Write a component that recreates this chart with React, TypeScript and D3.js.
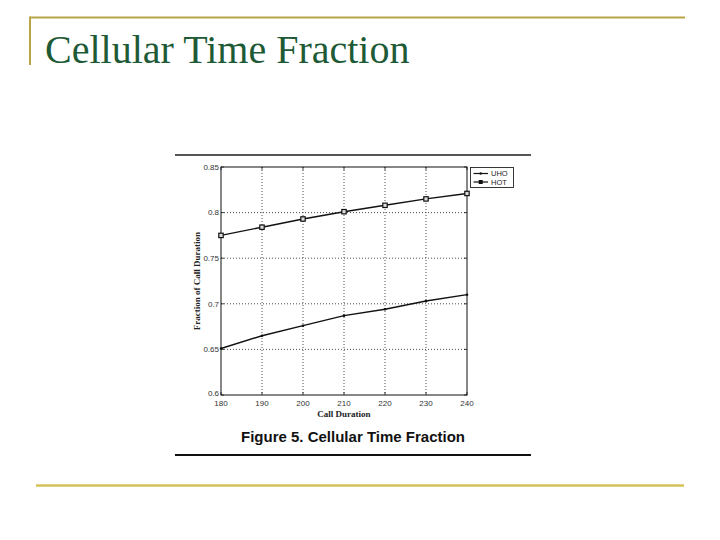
import React from "react";
import * as d3 from "d3";

const callDurations = [180, 190, 200, 210, 220, 230, 240];
const uhoValues = [0.651, 0.665, 0.676, 0.687, 0.694, 0.703, 0.71];
const hotValues = [0.775, 0.784, 0.793, 0.801, 0.808, 0.815, 0.821];
const yTicks = [0.6, 0.65, 0.7, 0.75, 0.8, 0.85];
const yTickLabels = ["0.6", "0.65", "0.7", "0.75", "0.8", "0.85"];
const seriesNames = ["UHO", "HOT"];

export default function App() {
  const W = 720, H = 540;
  const left = 221, right = 467, top = 167, bottom = 395;
  const x = d3.scaleLinear().domain([180, 240]).range([left, right]);
  const y = d3.scaleLinear().domain([0.6, 0.85]).range([bottom, top]);
  const line = d3
    .line<[number, number]>()
    .x((d) => x(d[0]))
    .y((d) => y(d[1]));
  const uho = callDurations.map((c, i) => [c, uhoValues[i]] as [number, number]);
  const hot = callDurations.map((c, i) => [c, hotValues[i]] as [number, number]);

  const gold = "#b8a548";
  const tickFont = "'Liberation Sans', Arial, sans-serif";
  const serif = "'Liberation Serif', 'Times New Roman', serif";

  return (
    <svg
      width={W}
      height={H}
      viewBox={`0 0 ${W} ${H}`}
      style={{ position: "absolute", left: 0, top: 0, background: "#fff" }}
    >
      {/* slide decoration */}
      <line x1={30} y1={17.5} x2={685} y2={17.5} stroke={gold} strokeWidth={2} />
      <line x1={30} y1={16.5} x2={30} y2={65} stroke={gold} strokeWidth={2} />
      <line x1={36} y1={485.5} x2={684} y2={485.5} stroke="#d2c25a" strokeWidth={2.5} />
      <text x={45} y={63} fontFamily={serif} fontSize={40} fill="#1e5a36">
        Cellular Time Fraction
      </text>

      {/* figure rules */}
      <line x1={175} y1={155} x2={531} y2={155} stroke="#555" strokeWidth={1.8} />
      <line x1={175} y1={455} x2={531} y2={455} stroke="#111" strokeWidth={2} />

      {/* grid */}
      {callDurations.slice(1, -1).map((c) => (
        <line
          key={"vx" + c}
          x1={x(c)}
          x2={x(c)}
          y1={top}
          y2={bottom}
          stroke="#222"
          strokeWidth={0.8}
          strokeDasharray="1,2"
        />
      ))}
      {yTicks.slice(1, -1).map((t) => (
        <line
          key={"hy" + t}
          x1={left}
          x2={right}
          y1={y(t)}
          y2={y(t)}
          stroke="#222"
          strokeWidth={0.8}
          strokeDasharray="1,2"
        />
      ))}

      {/* frame */}
      <rect
        x={left}
        y={top}
        width={right - left}
        height={bottom - top}
        fill="none"
        stroke="#111"
        strokeWidth={1}
      />
      {/* inward ticks */}
      {callDurations.map((c) => (
        <g key={"tx" + c}>
          <line x1={x(c)} x2={x(c)} y1={bottom} y2={bottom - 3} stroke="#111" strokeWidth={0.8} />
          <line x1={x(c)} x2={x(c)} y1={top} y2={top + 3} stroke="#111" strokeWidth={0.8} />
        </g>
      ))}
      {yTicks.map((t) => (
        <g key={"ty" + t}>
          <line x1={left} x2={left + 3} y1={y(t)} y2={y(t)} stroke="#111" strokeWidth={0.8} />
          <line x1={right} x2={right - 3} y1={y(t)} y2={y(t)} stroke="#111" strokeWidth={0.8} />
        </g>
      ))}

      {/* tick labels */}
      {yTicks.map((t, i) => (
        <text
          key={"yl" + t}
          x={left - 2}
          y={y(t)}
          dy={i === 0 ? "0.1em" : "0.35em"}
          textAnchor="end"
          fontFamily={tickFont}
          fontSize={8}
          fill="#333"
        >
          {yTickLabels[i]}
        </text>
      ))}
      {callDurations.map((c) => (
        <text
          key={"xl" + c}
          x={x(c)}
          y={bottom + 10.5}
          textAnchor="middle"
          fontFamily={tickFont}
          fontSize={8}
          fill="#333"
        >
          {c}
        </text>
      ))}

      {/* axis labels */}
      <text
        x={(left + right) / 2}
        y={417}
        textAnchor="middle"
        fontFamily={serif}
        fontWeight="bold"
        fontSize={9}
        fill="#222"
      >
        Call Duration
      </text>
      <text
        transform={`translate(200, ${(top + bottom) / 2}) rotate(-90)`}
        textAnchor="middle"
        fontFamily={serif}
        fontWeight="bold"
        fontSize={9}
        fill="#222"
      >
        Fraction of Call Duration
      </text>

      {/* series */}
      <path d={line(uho) || ""} fill="none" stroke="#111" strokeWidth={1.4} />
      <path d={line(hot) || ""} fill="none" stroke="#111" strokeWidth={1.4} />
      {uho.map((d, i) => (
        <circle key={"u" + i} cx={x(d[0])} cy={y(d[1])} r={1.3} fill="#111" />
      ))}
      {hot.map((d, i) => (
        <rect
          key={"h" + i}
          x={x(d[0]) - 2.2}
          y={y(d[1]) - 2.2}
          width={4.4}
          height={4.4}
          fill="#ddd"
          stroke="#111"
          strokeWidth={1.2}
        />
      ))}

      {/* legend */}
      <rect x={470.5} y={167.5} width={43} height={20} fill="#fff" stroke="#222" strokeWidth={0.9} />
      <line x1={473.5} x2={488} y1={173.5} y2={173.5} stroke="#111" strokeWidth={1.2} />
      <circle cx={480.7} cy={173.5} r={1.2} fill="#111" />
      <line x1={473.5} x2={488} y1={182} y2={182} stroke="#111" strokeWidth={1.2} />
      <rect x={478.7} y={180} width={4} height={4} fill="#111" />
      <text x={491} y={176} fontFamily={tickFont} fontSize={7.5} fill="#222">
        {seriesNames[0]}
      </text>
      <text x={491} y={184.8} fontFamily={tickFont} fontSize={7.5} fill="#222">
        {seriesNames[1]}
      </text>

      {/* caption */}
      <text
        x={353}
        y={442}
        textAnchor="middle"
        fontFamily={tickFont}
        fontWeight="bold"
        fontSize={15}
        fill="#111"
      >
        Figure 5. Cellular Time Fraction
      </text>
    </svg>
  );
}
